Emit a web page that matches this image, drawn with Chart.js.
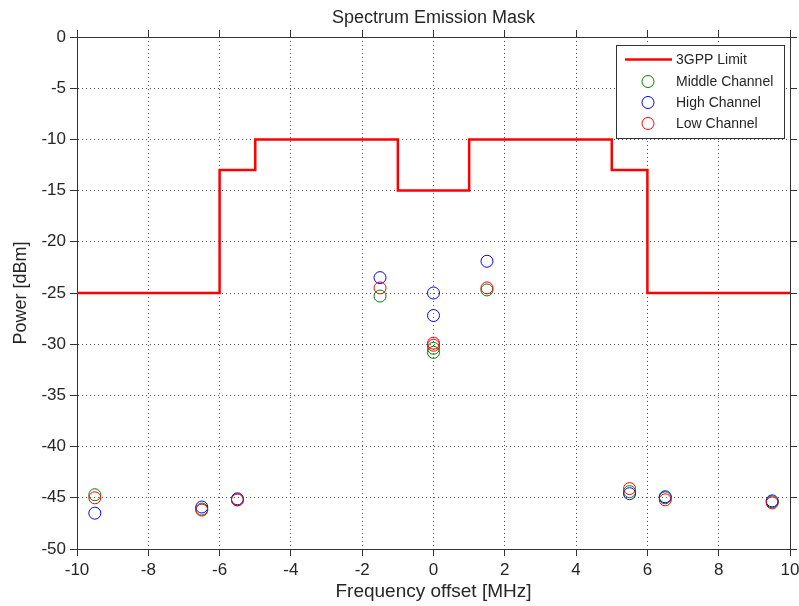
<!DOCTYPE html>
<html>
<head>
<meta charset="utf-8">
<title>Spectrum Emission Mask</title>
<script src="https://cdn.jsdelivr.net/npm/chart.js@4/dist/chart.umd.min.js"></script>
<style>
  html, body { margin: 0; padding: 0; background: #ffffff; }
  canvas { display: block; }
</style>
</head>
<body>
<canvas id="sem" width="799" height="606"></canvas>
<script>
// Measurement offsets (MHz) shared by all three channels
const freqOffsets = [-9.5, -6.5, -5.5, -1.5, 0, 0, 1.5, 5.5, 6.5, 9.5];

// Measured emission power (dBm) per channel
const middleChannel = [-44.7, -46.1, -45.2, -25.3, -30.4, -30.8, -24.7, -44.4, -45.0, -45.4];
const highChannel   = [-46.5, -45.9, -45.1, -23.5, -25.0, -27.2, -21.9, -44.6, -44.9, -45.3];
const lowChannel    = [-45.0, -46.2, -45.2, -24.5, -29.9, -30.1, -24.5, -44.1, -45.2, -45.5];

// 3GPP mask corner points (MHz, dBm)
const maskFreq  = [-10, -6, -6, -5, -5, -1, -1, 1, 1, 5, 5, 6, 6, 10];
const maskPower = [-25, -25, -13, -13, -10, -10, -15, -15, -10, -10, -13, -13, -25, -25];

// Axis ranges and tick steps
const xRange = [-10, 10];
const yRange = [-50, 0];
const xStep = 2;
const yStep = 5;

const FONT = '"Liberation Sans", Arial, sans-serif';
const INK = '#262626';

const toPoints = (xs, ys) => xs.map((x, i) => ({ x: x, y: ys[i] }));

// Legend drawn in the upper-right corner of the plot
const cornerLegend = {
  id: 'cornerLegend',
  afterDraw(chart) {
    const ctx = chart.ctx;
    const box = { x: 616.5, y: 45.5, w: 168, h: 93 };
    ctx.save();
    ctx.fillStyle = '#ffffff';
    ctx.fillRect(box.x, box.y, box.w, box.h);
    ctx.strokeStyle = '#333333';
    ctx.lineWidth = 1;
    ctx.strokeRect(box.x, box.y, box.w, box.h);
    ctx.font = '14px ' + FONT;
    ctx.textBaseline = 'middle';
    ctx.textAlign = 'left';
    const rowY = [59.5, 81.5, 102.5, 123.5];
    chart.data.datasets.forEach((ds, i) => {
      const y = rowY[i];
      if (ds.showLine) {
        ctx.strokeStyle = ds.borderColor;
        ctx.lineWidth = ds.borderWidth;
        ctx.beginPath();
        ctx.moveTo(625, y);
        ctx.lineTo(672, y);
        ctx.stroke();
      } else {
        ctx.strokeStyle = ds.borderColor;
        ctx.lineWidth = 1;
        ctx.beginPath();
        ctx.arc(648, y, ds.pointRadius, 0, Math.PI * 2);
        ctx.stroke();
      }
      ctx.fillStyle = INK;
      ctx.fillText(ds.label, 676, y + 1);
    });
    ctx.restore();
  }
};

// Plot title centred over the plot area
const plotTitle = {
  id: 'plotTitle',
  afterDraw(chart) {
    const ctx = chart.ctx;
    const a = chart.chartArea;
    ctx.save();
    ctx.font = '18px ' + FONT;
    ctx.fillStyle = INK;
    ctx.textAlign = 'center';
    ctx.textBaseline = 'middle';
    ctx.fillText('Spectrum Emission Mask', (a.left + a.right) / 2, 18);
    ctx.restore();
  }
};

const gridCommon = {
  color: '#555555',
  lineWidth: 1,
  tickLength: 7,
  tickColor: '#333333',
  tickWidth: 1
};

new Chart(document.getElementById('sem'), {
  type: 'scatter',
  data: {
    datasets: [
      {
        label: '3GPP Limit',
        data: toPoints(maskFreq, maskPower),
        showLine: true,
        borderColor: '#ff0000',
        backgroundColor: '#ff0000',
        borderWidth: 2.5,
        pointRadius: 0,
        tension: 0,
        order: 3
      },
      {
        label: 'Middle Channel',
        data: toPoints(freqOffsets, middleChannel),
        showLine: false,
        borderColor: '#008000',
        backgroundColor: 'rgba(0,0,0,0)',
        pointRadius: 6,
        pointBorderWidth: 1,
        order: 2
      },
      {
        label: 'High Channel',
        data: toPoints(freqOffsets, highChannel),
        showLine: false,
        borderColor: '#0000ff',
        backgroundColor: 'rgba(0,0,0,0)',
        pointRadius: 6,
        pointBorderWidth: 1,
        order: 1
      },
      {
        label: 'Low Channel',
        data: toPoints(freqOffsets, lowChannel),
        showLine: false,
        borderColor: '#ff0000',
        backgroundColor: 'rgba(0,0,0,0)',
        pointRadius: 6,
        pointBorderWidth: 1,
        order: 0
      }
    ]
  },
  options: {
    responsive: false,
    animation: false,
    devicePixelRatio: 1,
    events: [],
    layout: { padding: { top: 30, left: 0, right: 0, bottom: 0 } },
    plugins: {
      legend: { display: false },
      title: { display: false },
      tooltip: { enabled: false }
    },
    scales: {
      x: {
        type: 'linear',
        position: 'bottom',
        min: xRange[0],
        max: xRange[1],
        afterFit(scale) { scale.height = 57; scale.paddingLeft = 0; scale.paddingRight = 0; },
        ticks: { stepSize: xStep, color: INK, font: { family: FONT, size: 17 }, padding: 4, maxRotation: 0 },
        grid: gridCommon,
        border: { display: true, color: '#333333', width: 1, dash: [1, 3] },
        title: {
          display: true,
          text: 'Frequency offset [MHz]',
          color: INK,
          font: { family: FONT, size: 19 },
          padding: { top: 0, bottom: 3 }
        }
      },
      y: {
        type: 'linear',
        position: 'left',
        min: yRange[0],
        max: yRange[1],
        afterFit(scale) { scale.width = 77; scale.paddingTop = 0; scale.paddingBottom = 0; },
        ticks: { stepSize: yStep, color: INK, font: { family: FONT, size: 17 }, padding: 4 },
        grid: gridCommon,
        border: { display: true, color: '#333333', width: 1, dash: [1, 3] },
        title: {
          display: true,
          text: 'Power [dBm]',
          color: INK,
          font: { family: FONT, size: 18 },
          padding: { top: 10, bottom: 0 }
        }
      },
      xTop: {
        type: 'linear',
        position: 'top',
        min: xRange[0],
        max: xRange[1],
        afterFit(scale) { scale.height = 7; scale.paddingLeft = 0; scale.paddingRight = 0; },
        ticks: { stepSize: xStep, display: false },
        grid: { drawOnChartArea: false, tickLength: 7, tickColor: '#333333' },
        border: { display: true, color: '#333333', width: 1 }
      },
      yRight: {
        type: 'linear',
        position: 'right',
        min: yRange[0],
        max: yRange[1],
        afterFit(scale) { scale.width = 9; scale.paddingTop = 0; scale.paddingBottom = 0; },
        ticks: { stepSize: yStep, display: false },
        grid: { drawOnChartArea: false, tickLength: 7, tickColor: '#333333' },
        border: { display: true, color: '#333333', width: 1 }
      }
    }
  },
  plugins: [plotTitle, cornerLegend]
});
</script>
</body>
</html>
